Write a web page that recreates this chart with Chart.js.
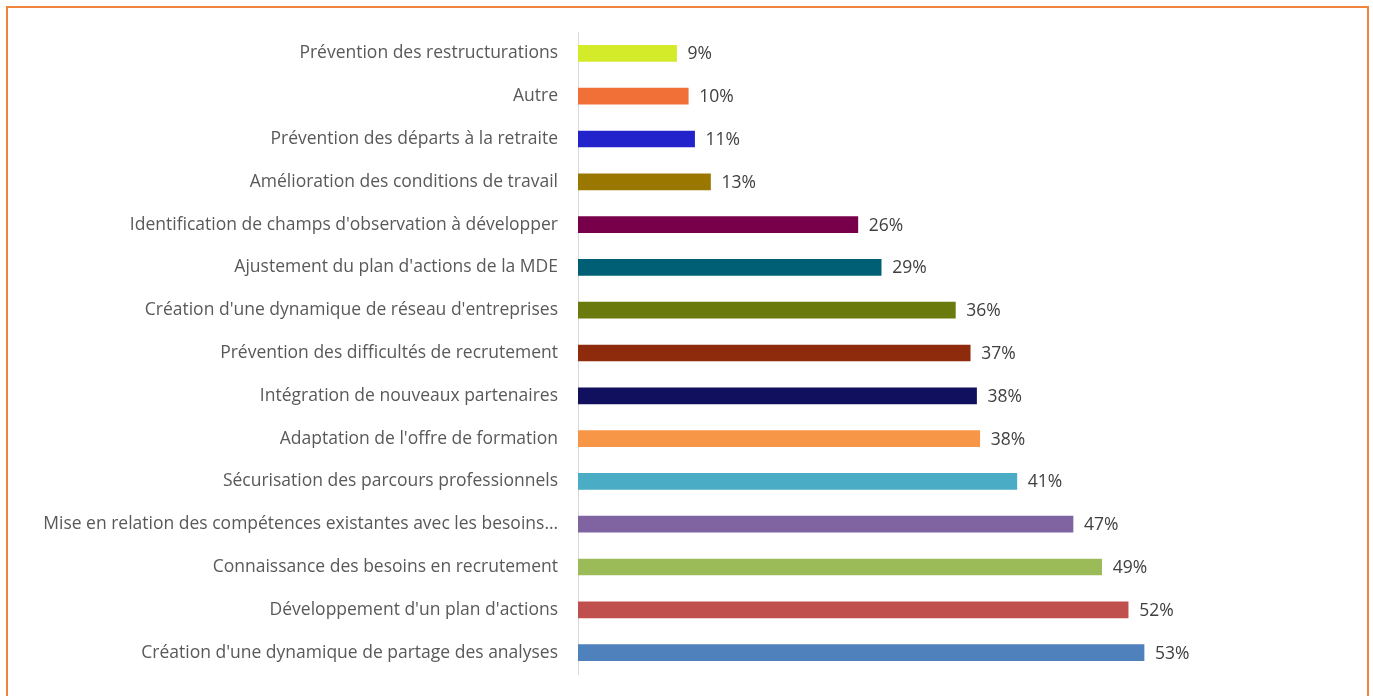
<!DOCTYPE html>
<html>
<head>
<meta charset="utf-8">
<script src="https://cdn.jsdelivr.net/npm/chart.js@4/dist/chart.umd.min.js"></script>
<style>
  html, body { margin: 0; padding: 0; background: #fff; overflow: hidden; }
  #wrap { position: relative; width: 1373px; height: 696px; }
  #frame { position: absolute; left: 6px; top: 6px; width: 1363px; height: 720px; border: 2px solid #F0843C; box-sizing: border-box; }
  canvas { position: absolute; left: 0; top: 0; }
</style>
</head>
<body>
<div id="wrap">
  <div id="frame"></div>
  <canvas id="c" width="1373" height="696"></canvas>
</div>
<script>
const categories = [
  "Prévention des restructurations",
  "Autre",
  "Prévention des départs à la retraite",
  "Amélioration des conditions de travail",
  "Identification de champs d'observation à développer",
  "Ajustement du plan d'actions de la MDE",
  "Création d'une dynamique de réseau d'entreprises",
  "Prévention des difficultés de recrutement",
  "Intégration de nouveaux partenaires",
  "Adaptation de l'offre de formation",
  "Sécurisation des parcours professionnels",
  "Mise en relation des compétences existantes avec les besoins…",
  "Connaissance des besoins en recrutement",
  "Développement d'un plan d'actions",
  "Création d'une dynamique de partage des analyses"
];
const values = [9.3, 10.4, 11.0, 12.5, 26.4, 28.6, 35.6, 37.0, 37.6, 37.9, 41.4, 46.7, 49.4, 51.9, 53.4];
const barColors = [
  "#D3EB29", "#F07038", "#2323CC", "#9A7800", "#78004A",
  "#005F74", "#6A7A0C", "#8E2B0C", "#10105E", "#F79646",
  "#4BACC6", "#8064A2", "#9BBB59", "#C0504D", "#4F81BD"
];

const valueLabelPlugin = {
  id: 'valueLabels',
  afterDatasetsDraw(chart) {
    const ctx = chart.ctx;
    const meta = chart.getDatasetMeta(0);
    ctx.save();
    ctx.font = '17.5px "Open Sans", sans-serif';
    ctx.fillStyle = '#404040';
    ctx.textAlign = 'left';
    ctx.textBaseline = 'middle';
    meta.data.forEach((bar, i) => {
      const v = chart.data.datasets[0].data[i];
      ctx.fillText(Math.round(v) + '%', bar.x + 11, bar.y + 1);
    });
    ctx.restore();
  }
};

new Chart(document.getElementById('c'), {
  type: 'bar',
  data: {
    labels: categories,
    datasets: [{
      data: values,
      backgroundColor: barColors,
      barThickness: 16,
      borderWidth: 0
    }]
  },
  options: {
    indexAxis: 'y',
    responsive: false,
    animation: false,
    maintainAspectRatio: false,
    layout: { padding: { left: 0, right: 159, top: 32, bottom: 22 } },
    plugins: { legend: { display: false }, tooltip: { enabled: false } },
    scales: {
      x: {
        display: false,
        min: 0,
        max: 60
      },
      y: {
        afterFit(scale) { scale.width = 578; },
        grid: { display: true, drawOnChartArea: false, drawTicks: true, tickLength: 20, color: 'rgba(0,0,0,0)' },
        border: { display: true, color: '#D9D9D9', width: 1 },
        ticks: {
          padding: 0,
          color: '#595959',
          font: { family: '"Open Sans", sans-serif', size: 17.5 },
          autoSkip: false
        }
      }
    }
  },
  plugins: [valueLabelPlugin]
});
</script>
</body>
</html>
